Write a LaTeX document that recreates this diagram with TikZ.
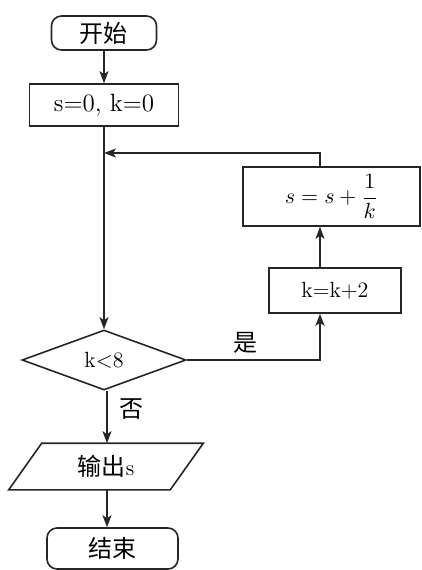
\documentclass[tikz,border=0pt]{standalone}
\usepackage{amsmath}
\usepackage{fontspec}
\newfontfamily\cjk{Noto Sans CJK SC}
\usetikzlibrary{shapes.geometric,arrows.meta}
\begin{document}
\begin{tikzpicture}[x=0.5pt,y=-0.5pt,
  line width=0.8pt, draw=black!85,
  every node/.style={font=\fontsize{10.5}{12}\selectfont, inner sep=0pt},
  box/.style={draw, rectangle},
  term/.style={draw, rectangle, rounded corners=5pt},
  decis/.style={draw, diamond},
  arr/.style={-{Stealth[length=6pt,width=4.5pt,inset=1.5pt]}},
  ch/.style={font=\cjk\fontsize{12}{14}\selectfont}]
\useasboundingbox (0,0) rectangle (422,570);
\node[term, ch, minimum width=52.5pt, minimum height=17pt] (start) at (104,33) {开始};
\node[box, minimum width=74.5pt, minimum height=21pt, font=\fontsize{12.5}{14}\selectfont] (init) at (104,105) {s=0, k=0};
\node[box, minimum width=88.5pt, minimum height=29.5pt] (upd) at (331.5,196.5) {$s = s + \dfrac{1}{k}$};
\node[box, minimum width=66pt, minimum height=22.5pt, font=\fontsize{11}{13}\selectfont] (kbox) at (335,290.5) {k=k+2};
\node[decis, minimum width=82pt, minimum height=30pt, font=\fontsize{11}{13}\selectfont] (dia) at (104,360) {k$<$8};
\node[minimum width=80pt, minimum height=22.5pt, ch] (io) at (106,466.5) {输出\rmfamily\fontsize{11}{13}\selectfont s};
\draw ([xshift=8.25pt]io.north west) -- ([xshift=8.25pt]io.north east)
   -- ([xshift=-8.25pt]io.south east) -- ([xshift=-8.25pt]io.south west) -- cycle;
\node[term, ch, minimum width=65.5pt, minimum height=20.5pt] (end) at (112.5,548.5) {结束};
\coordinate (col) at (320,0);
\coordinate (merge) at (0,153);
\coordinate (nox) at (107,0);
\draw[arr] (start.south) -- (init.north);
\draw[arr] (init.south) -- (dia.north);
\draw[arr] (upd.north -| col) |- (merge -| init.south);
\draw[arr] (kbox.north -| col) -- (upd.south -| col);
\draw[arr] (dia.east) -| (kbox.south -| col) node[pos=0.22, above=3pt, ch] {是};
\draw[arr] (dia.south -| nox) -- (io.north -| nox) node[pos=0.35, right=6pt, ch] {否};
\draw[arr] (io.south -| nox) -- (end.north -| nox);
\end{tikzpicture}
\end{document}
